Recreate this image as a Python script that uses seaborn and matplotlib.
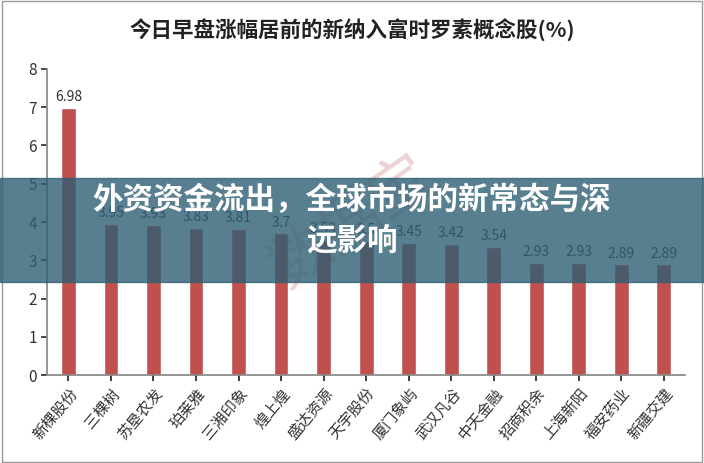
import matplotlib
matplotlib.use("Agg")
import matplotlib.pyplot as plt
import seaborn as sns
import pandas as pd
from matplotlib.patches import Rectangle

names = ["新棵股份","三棵树","苏垦农发","珀莱雅","三湘印象","煌上煌","盛达资源","天宇股份","厦门象屿","武汉凡谷","中天金融","招商积余","上海新阳","福安药业","新疆交建"]
values = [6.98,3.95,3.93,3.85,3.81,3.70,3.53,3.50,3.45,3.42,3.34,2.93,2.93,2.89,2.89]
labels = ["6.98","3.95","3.93","3.83","3.81","3.7","3.53","3.5","3.45","3.42","3.54","2.93","2.93","2.89","2.89"]

sns.set_theme(style="white")
plt.rcParams['font.family'] = ['Noto Sans CJK SC', 'DejaVu Sans']
fig = plt.figure(figsize=(7.04,4.63), dpi=100)
ax = fig.add_axes([0.067,0.19,0.906,0.661])
df = pd.DataFrame({"n":names,"v":values})
sns.barplot(data=df, x="n", y="v", color="#c0504d", saturation=1, width=0.35, ax=ax)
for i,(v,l) in enumerate(zip(values,labels)):
    ax.text(i, v+0.1, l, ha="center", va="bottom", fontsize=10, color="#333333")
ax.set_ylim(0,8)
ax.set_yticks(range(9))
ax.set_xlabel(""); ax.set_ylabel("")
ax.tick_params(axis="y", labelsize=11, colors="#333333", left=True, length=4)
ax.tick_params(axis="x", bottom=True, length=4)
ax.set_xticks(range(len(names)))
ax.set_xticklabels(names, rotation=50, ha="right", rotation_mode="anchor", fontsize=11, color="#333333")
for s in ["top","right"]: ax.spines[s].set_visible(False)
for s in ["left","bottom"]: ax.spines[s].set_color("#888888")
fig.text(0.5,0.935,"今日早盘涨幅居前的新纳入富时罗素概念股(%)",ha="center",va="center",fontsize=15.5,fontweight="bold",color="#222222")
fig.text(0.5,0.52,"数据宝",rotation=35,fontsize=44,color="#c0504d",alpha=0.25,ha="center",va="center")
fig.patches.append(Rectangle((0,1-282/463),1,104/463,transform=fig.transFigure,color="#2e5f73",alpha=0.8,zorder=5))
fig.text(0.5,0.525,"外资资金流出，全球市场的新常态与深\n远影响",ha="center",va="center",fontsize=22,fontweight="bold",color="white",zorder=6,linespacing=1.35)
fig.patches.append(Rectangle((0.003,0.003),0.994,0.994,transform=fig.transFigure,fill=False,edgecolor="#999999",lw=1))
fig.savefig("out.png", dpi=100)
